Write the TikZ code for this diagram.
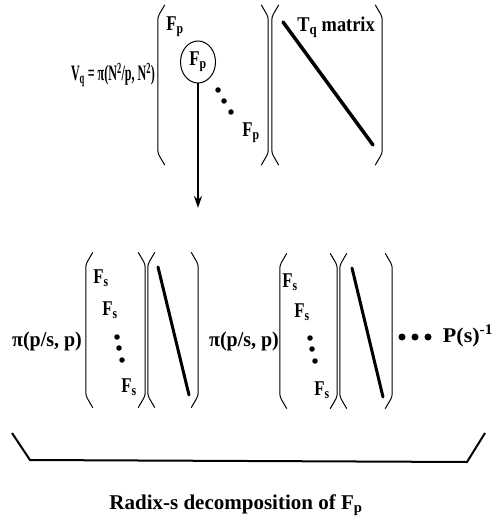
\documentclass[tikz,border=0pt]{standalone}
\usepackage{fontspec}
\usepackage{graphicx}
\setmainfont{Liberation Serif}
\usetikzlibrary{arrows.meta, positioning, calc, shapes.geometric}
\tikzset{
	lbl/.style ={font=\fontsize{21}{23}\selectfont\bfseries, inner sep=0pt},
	mat/.style ={rectangle, inner sep=0pt, minimum height=155pt},
	brk/.style ={line width=1pt, rounded corners=3pt},
	diag/.style={line width=3.5pt, line cap=round},
	dotd/.style={circle, fill=black, inner sep=0pt, minimum size=5.5pt},
	flow/.style={-{Stealth[length=12pt, width=8pt]}, line width=1.8pt},
}
% tall round brackets on both sides of a matrix node
\newcommand{\parens}[1]{%
	\draw[brk] ([xshift=7pt]#1.north west) -- ([yshift=-12pt]#1.north west) -- ([yshift=12pt]#1.south west) -- ([xshift=7pt]#1.south west);
	\draw[brk] ([xshift=-7pt]#1.north east) -- ([yshift=-12pt]#1.north east) -- ([yshift=12pt]#1.south east) -- ([xshift=-7pt]#1.south east);}
\newcommand{\cnd}[2]{\scalebox{#1}[1]{#2}}
\newcommand{\Fp}{\cnd{0.8}{F\textsubscript{p}}}
\newcommand{\Fs}{\cnd{0.8}{F\textsubscript{s}}}
\begin{document}
\begin{tikzpicture}[x=1pt, y=-1pt]
	\useasboundingbox (0,0) rectangle (499,521);
	% top row
	\node[lbl, font=\fontsize{22}{24}\selectfont\bfseries] (vq) at (113,75) {\cnd{0.55}{V\textsubscript{q} = π(N\textsuperscript{2}/p, N\textsuperscript{2})}};
	\node[mat, minimum width=110pt, minimum height=160pt] (mp) at (213,85) {};
	\node[mat, minimum width=110pt, minimum height=160pt] (mt) at (327,85) {};
	\parens{mp}
	\parens{mt}
	\node[lbl] (fpa) at (175,27) {\Fp};
	\node[lbl, ellipse, draw, line width=1pt, minimum width=35pt, minimum height=42pt] (fpc) at (198,62) {\Fp};
	\node[dotd] (da1) at (218,90) {};
	\node[dotd] (da2) at (224,101) {};
	\node[dotd] (da3) at (231,112) {};
	\node[lbl] (fpb) at (251,133) {\Fp};
	\node[lbl] (tq) at (336,27) {\cnd{0.875}{T\textsubscript{q} matrix}};
	\draw[diag] (283,22) -- (373,145);
	\coordinate (tip) at (198,208);
	\draw[flow] (fpc) -- (tip);
	% bottom row
	\node[lbl] (pia) at (47,341) {\cnd{0.95}{π(p/s, p)}};
	\node[mat, minimum width=59pt] (ma) at (115.5,330) {};
	\node[mat, minimum width=50pt] (mb) at (173,330) {};
	\node[lbl] (pib) at (244,341) {\cnd{0.95}{π(p/s, p)}};
	\node[mat, minimum width=57pt] (mc) at (308.5,331) {};
	\node[mat, minimum width=52pt] (md) at (366,331) {};
	\foreach \m in {ma,mb,mc,md} {\parens{\m}}
	\node[lbl] (fsa1) at (101,278) {\Fs};
	\node[lbl] (fsa2) at (110,310) {\Fs};
	\node[dotd] (db1) at (117,337) {};
	\node[dotd] (db2) at (119,348) {};
	\node[dotd] (db3) at (122,360) {};
	\node[lbl] (fsa3) at (129,387) {\Fs};
	\draw[diag, line width=3pt] (158,267) -- (189,395);
	\node[lbl] (fsc1) at (290,282) {\Fs};
	\node[lbl] (fsc2) at (302,312) {\Fs};
	\node[dotd] (dc1) at (310,338) {};
	\node[dotd] (dc2) at (312,349) {};
	\node[dotd] (dc3) at (315,361) {};
	\node[lbl] (fsc3) at (322,390) {\Fs};
	\draw[diag, line width=3pt] (352,268) -- (383,397);
	\foreach \i/\x in {1/402, 2/415, 3/428}
		\node[dotd, minimum size=7pt] (dd\i) at (\x,337) {};
	\node[lbl] (ps) at (468,336) {\cnd{1.05}{P(s)\textsuperscript{-1}}};
	% brace under the decomposition
	\draw[line width=2pt] (12,433) -- (30,460) -- (467,462) -- (485,433);
	\node[lbl] (cap) at (236,505) {Radix-s decomposition of F\textsubscript{p}};
\end{tikzpicture}
\end{document}
